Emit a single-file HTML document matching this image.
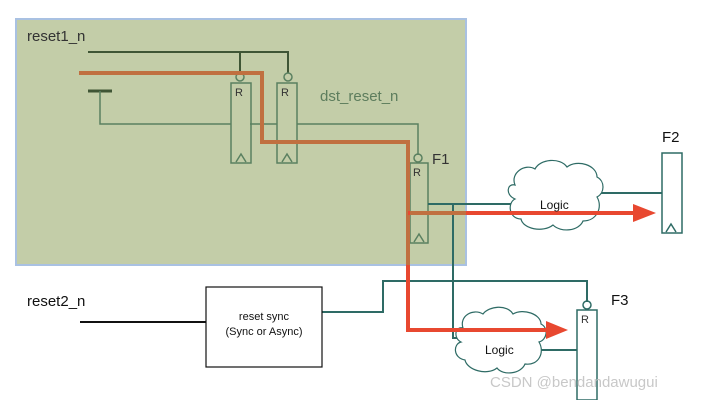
<!DOCTYPE html>
<html><head><style>body{margin:0;background:#fff}svg{display:block}</style></head><body>
<svg width="703" height="400" viewBox="0 0 703 400" xmlns="http://www.w3.org/2000/svg" font-family="Liberation Sans, sans-serif">
<rect x="16" y="19" width="450" height="246" fill="#c3cda8" stroke="#a9c1e2" stroke-width="2"/>
<text x="27" y="41" font-size="15" fill="#333">reset1_n</text>
<text x="320" y="101" font-size="15" fill="#5d7d5d">dst_reset_n</text>
<g fill="none" stroke="#3f5535" stroke-width="2">
<path d="M88 52H288V73M240 52V73"/>
<path d="M88 91H112" stroke-width="3"/>
</g>
<g fill="none" stroke="#5a8060" stroke-width="1.5">
<path d="M100 91V124H231M250 124H277M297 124H418V155"/>
<circle cx="240" cy="77" r="4"/><circle cx="288" cy="77" r="4"/><circle cx="418" cy="158" r="4"/>
<rect x="231" y="83" width="20" height="80"/><rect x="277" y="83" width="20" height="80"/><rect x="410" y="163" width="18" height="80"/>
<path d="M236 162L241 154L246 162M282 162L287 154L292 162M414 242L419 234L424 242"/>
</g>
<g font-size="11" fill="#333"><text x="235" y="96">R</text><text x="281" y="96">R</text><text x="413" y="176">R</text></g>
<text x="432" y="164" font-size="15" fill="#333">F1</text>
<g fill="none" stroke="#2e6b65" stroke-width="2">
<path d="M428 204H515M600 193H662M453 204V338H460"/>
<path d="M322 312H383V281H587V302"/>
<path d="M540 350H577"/>
</g>
<g stroke="#2e6b65" stroke-width="1.2" fill="#fff">
<path d="M515 185c-5-12 10-22 20-16c5-10 25-12 32-2c10-8 30-2 30 10c8 4 8 16 0 20c6 10 0 24-14 24c-4 10-22 12-30 4c-10 8-30 4-32-6c-12 0-14-16-6-20c-10-4-8-16 0-14z"/>
<path d="M463 328c-4-12 10-20 20-14c6-8 24-10 30 0c10-6 28 0 28 10c8 4 6 16 -2 18c6 10 0 24-14 22c-4 10-22 12-28 4c-10 8-30 2-32-8c-12-2-12-16-4-18c-8-4-6-16 2-14z"/>
</g>
<path d="M79 73H262V142H408V330H550" fill="none" stroke="#c07040" stroke-width="4"/>
<path d="M408 265V330H550" fill="none" stroke="#e84830" stroke-width="4"/>
<path d="M408 213H636" stroke="#e84830" stroke-width="4" fill="none"/>
<path d="M410 213H466" stroke="#c07040" stroke-width="4"/>
<polygon points="633,204 656,213 633,222" fill="#e84830"/>
<polygon points="546,321 568,330 546,339" fill="#e84830"/>
<text x="540" y="209" font-size="12" fill="#111">Logic</text>
<text x="485" y="354" font-size="12" fill="#111">Logic</text>
<g fill="none" stroke="#2e6b65" stroke-width="1.5">
<rect x="662" y="153" width="20" height="80"/><path d="M666 232L671 224L676 232"/>
<circle cx="587" cy="305" r="4"/><rect x="577" y="310" width="20" height="90"/>
</g>
<text x="581" y="323" font-size="11" fill="#333">R</text>
<text x="662" y="142" font-size="15" fill="#111">F2</text>
<text x="611" y="305" font-size="15" fill="#111">F3</text>
<path d="M80 322H206" stroke="#111" stroke-width="2"/>
<text x="27" y="306" font-size="15" fill="#111">reset2_n</text>
<rect x="206" y="287" width="116" height="80" fill="#fff" stroke="#111" stroke-width="1.2"/>
<text x="264" y="320" font-size="11" text-anchor="middle" fill="#111">reset sync</text>
<text x="264" y="335" font-size="11" text-anchor="middle" fill="#111">(Sync or Async)</text>
<text x="490" y="387" font-size="15" fill="#c8c8c8">CSDN @bendandawugui</text>
</svg>
</body></html>
